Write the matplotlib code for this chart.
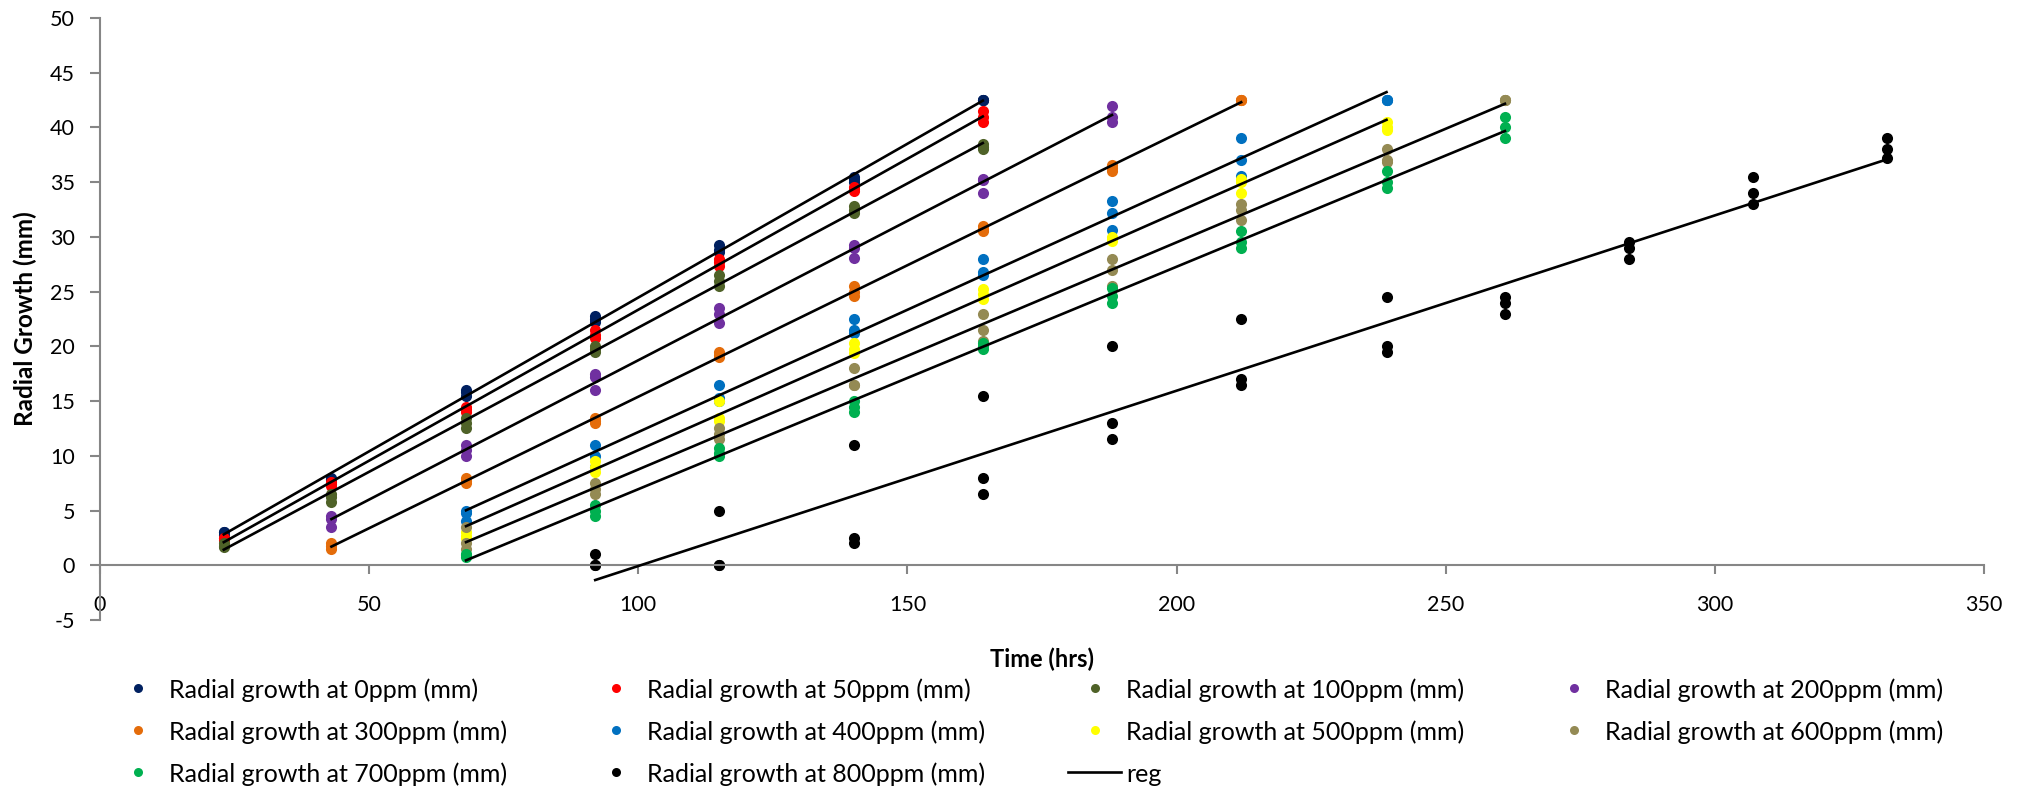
import numpy as np
import matplotlib.pyplot as plt
from matplotlib.lines import Line2D

# sampling times (hrs)
hours = [23, 43, 68, 92, 115, 140, 164, 188, 212, 239, 261, 284, 307, 332]

labels = ['0ppm', '50ppm', '100ppm', '200ppm', '300ppm',
          '400ppm', '500ppm', '600ppm', '700ppm', '800ppm']
colors = ['#002060', '#FF0000', '#4F6228', '#7030A0', '#E46C0A',
          '#0070C0', '#FFFF00', '#948A54', '#00B050', '#000000']

# first / last sampling index for each concentration
first_idx = [0, 0, 0, 1, 1, 2, 2, 2, 2, 3]
last_idx = [6, 6, 6, 7, 8, 9, 9, 10, 10, 13]

# three replicate readings (mm) per sampling time
g0 = [[3.0, 3.0, 2.8], [8.0, 7.8, 7.9], [16.0, 15.8, 15.5], [22.8, 22.5, 22.2],
      [29.3, 28.8, 28.6], [35.5, 35.3, 35.0], [42.5, 42.5, 42.5]]
g50 = [[2.5, 2.5, 2.3], [7.6, 7.4, 7.2], [14.5, 14.3, 14.0], [21.5, 21.0, 20.8],
       [28.0, 27.7, 27.3], [34.6, 34.4, 34.2], [41.5, 41.0, 40.5]]
g100 = [[2.0, 1.8, 1.7], [6.5, 6.2, 5.8], [13.5, 13.0, 12.5], [20.0, 19.8, 19.5],
        [26.5, 26.0, 25.5], [32.8, 32.5, 32.2], [38.5, 38.2, 38.0]]
g200 = [[4.5, 4.2, 3.5], [11.0, 10.5, 10.0], [17.5, 17.2, 16.0], [23.5, 23.0, 22.1],
        [29.3, 29.0, 28.1], [35.3, 35.2, 34.0], [42.0, 41.0, 40.5]]
g300 = [[2.0, 1.8, 1.5], [8.0, 7.7, 7.5], [13.5, 13.2, 13.0], [19.5, 19.2, 19.0],
        [25.5, 25.0, 24.6], [31.0, 30.7, 30.5], [36.6, 36.3, 36.0], [42.5, 42.5, 42.5]]
g400 = [[5.0, 4.8, 4.0], [11.0, 10.0, 9.0], [16.5, 15.3, 15.0], [22.5, 21.5, 21.2],
        [28.0, 26.8, 26.5], [33.3, 32.2, 30.6], [39.0, 37.0, 35.6], [42.5, 42.5, 42.5]]
g500 = [[3.0, 2.7, 2.5], [9.5, 9.0, 8.5], [15.0, 13.5, 13.2], [20.3, 19.8, 19.4],
        [25.2, 24.8, 24.3], [30.0, 29.8, 29.6], [35.3, 35.0, 34.0], [40.5, 40.0, 39.8]]
g600 = [[3.5, 2.0, 1.5], [7.5, 7.0, 6.5], [12.5, 12.0, 11.5], [18.0, 16.5, 16.5],
        [23.0, 21.5, 20.5], [28.0, 27.0, 25.5], [33.0, 32.5, 31.5], [38.0, 37.0, 36.8],
        [42.5, 42.5, 42.5]]
g700 = [[1.0, 0.9, 0.8], [5.5, 5.0, 4.5], [10.7, 10.3, 10.0], [15.0, 14.5, 14.0],
        [20.3, 20.0, 19.8], [25.3, 24.6, 24.0], [30.5, 29.5, 29.0], [36.0, 35.0, 34.5],
        [41.0, 40.0, 39.0]]
g800 = [[1.0, 0.0, 0.0], [5.0, 0.0, 0.0], [11.0, 2.5, 2.0], [15.5, 8.0, 6.5],
        [20.0, 13.0, 11.5], [22.5, 17.0, 16.5], [24.5, 20.0, 19.5], [24.5, 24.0, 23.0],
        [29.5, 29.0, 28.0], [35.5, 34.0, 33.0], [39.0, 38.0, 37.2]]

growth = [g0, g50, g100, g200, g300, g400, g500, g600, g700, g800]

plt.rcParams['font.family'] = ['Lato', 'DejaVu Sans']
plt.rcParams['axes.unicode_minus'] = False

W, H = 2027, 786
fig = plt.figure(figsize=(W / 100, H / 100), dpi=100)
ax = fig.add_axes([100 / W, 1 - 620 / H, 1884 / W, 602 / H])

for col, i0, i1, data in zip(colors, first_idx, last_idx, growth):
    t = np.array(hours[i0:i1 + 1])
    y = np.array(data)
    tt = np.repeat(t, y.shape[1])
    ax.plot(tt, y.ravel(), 'o', color=col, markersize=8, markeredgewidth=0, zorder=2)

# fitted regression line per concentration
for i0, i1, data in zip(first_idx, last_idx, growth):
    t = np.array(hours[i0:i1 + 1])
    y = np.array(data)
    k, b = np.polyfit(np.repeat(t, y.shape[1]), y.ravel(), 1)
    xs = np.array([t[0], t[-1]])
    ax.plot(xs, k * xs + b, color='black', linewidth=1.9, zorder=3)

ax.set_xlim(0, 350)
ax.set_ylim(-5, 50)
ax.set_xticks(range(0, 351, 50))
ax.set_yticks(range(-5, 51, 5))

for s in ['top', 'right']:
    ax.spines[s].set_visible(False)
ax.spines['bottom'].set_position(('data', 0))
for s in ['left', 'bottom']:
    ax.spines[s].set_color('#868686')
    ax.spines[s].set_linewidth(1.5)

ax.tick_params(axis='x', direction='out', length=6.5, width=1.5, color='#868686',
               labelsize=15.5, pad=15)
ax.tick_params(axis='y', direction='out', length=7, width=1.5, color='#868686',
               labelsize=15.5, pad=11)

fig.text(25 / W, 1 - 319 / H, 'Radial Growth (mm)', rotation=90,
         ha='center', va='center', fontsize=17.5, fontweight='bold')
fig.text(1042 / W, 1 - 659 / H, 'Time (hrs)',
         ha='center', va='center', fontsize=17, fontweight='bold')

# legend, laid out row by row (4 columns) like the original
col_x = [138, 616, 1095, 1574]
row_y = [688, 730, 772]
entries = [('Radial growth at %s (mm)' % lab, col) for lab, col in zip(labels, colors)]
entries.append(('reg', None))
for n, (text, col) in enumerate(entries):
    x = col_x[n % 4]
    y = 1 - row_y[n // 4] / H
    if col is None:
        fig.add_artist(Line2D([(x - 27) / W, (x + 26) / W], [y, y],
                              color='black', linewidth=1.9))
    else:
        fig.add_artist(Line2D([x / W], [y], marker='o', color=col, linestyle='none',
                              markersize=6.5, markeredgewidth=0))
    fig.text((x + 31) / W, y, text, ha='left', va='center_baseline', fontsize=18)

fig.savefig('out.png', dpi=100)
